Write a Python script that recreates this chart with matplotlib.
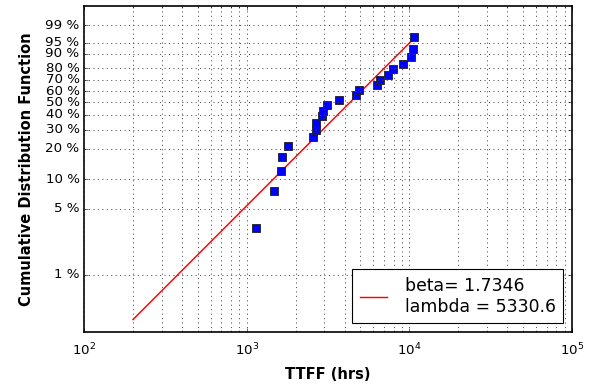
import numpy as np
import matplotlib
matplotlib.use("Agg")
import matplotlib.pyplot as plt
from matplotlib.ticker import FixedLocator, FixedFormatter, NullLocator

plt.style.use("classic")

# data
ttff = [1139, 1464, 1623, 1654, 1785, 2544, 2666, 2678, 2903, 2957, 3130,
        3693, 4680, 4903, 6356, 6600, 7427, 7970, 9108, 10287, 10583, 10734]
cdf = [0.0313, 0.0759, 0.1205, 0.1652, 0.2098, 0.2545, 0.2991, 0.3438,
       0.3884, 0.4330, 0.4777, 0.5223, 0.5670, 0.6116, 0.6563, 0.7009,
       0.7455, 0.7902, 0.8348, 0.8795, 0.9241, 0.9688]
beta = 1.7346
lam = 5330.6
fit_start = 200
ytick_pct = [1, 5, 10, 20, 30, 40, 50, 60, 70, 80, 90, 95, 99]


def fwd(F):
    F = np.asarray(F, dtype=float)
    with np.errstate(all="ignore"):
        return np.log(-np.log(1.0 - F))


def inv(z):
    z = np.asarray(z, dtype=float)
    with np.errstate(all="ignore"):
        return 1.0 - np.exp(-np.exp(z))


fig = plt.figure(figsize=(591 / 80, 384 / 80), dpi=80)
fig.patch.set_facecolor("white")
ax = fig.add_axes([84 / 591, 1 - 332 / 384, (572 - 84) / 591, (332 - 6) / 384])

ax.set_xscale("log")
ax.set_yscale("function", functions=(fwd, inv))

t_line = np.geomspace(fit_start, max(ttff), 300)
F_line = 1.0 - np.exp(-(t_line / lam) ** beta)
ax.plot(t_line, F_line, color="red", lw=1.3,
        label="beta= %.4f\nlambda = %.1f" % (beta, lam))
ax.plot(ttff, cdf, "s", color="blue", markersize=8, markeredgecolor="#222222",
        markeredgewidth=0.8, linestyle="none")

ax.set_xlim(1e2, 1e5)
ax.set_ylim(inv(-6.0), inv(2.0))

ax.yaxis.set_major_locator(FixedLocator([p / 100 for p in ytick_pct]))
ax.yaxis.set_major_formatter(FixedFormatter(["%d %%" % p for p in ytick_pct]))
ax.yaxis.set_minor_locator(NullLocator())
ax.tick_params(axis="x", which="major", pad=9)

ax.grid(True, which="major", axis="both", color="#444444", linestyle=":", lw=0.8)
ax.grid(True, which="minor", axis="x", color="#444444", linestyle=":", lw=0.8)

ax.set_xlabel("TTFF (hrs)", fontweight="bold", fontsize=13.2, labelpad=8)
ax.set_ylabel("Cumulative Distribution Function", fontweight="bold",
              fontsize=13.2, labelpad=10)

for sp in ax.spines.values():
    sp.set_linewidth(1.5)

leg = ax.legend(loc="lower right", fontsize=15.5, frameon=True, fancybox=False,
                numpoints=1, handlelength=1.6, handletextpad=1.0,
                borderpad=0.45, borderaxespad=0.5)

fig.savefig("out.png", dpi=80, facecolor="white")
